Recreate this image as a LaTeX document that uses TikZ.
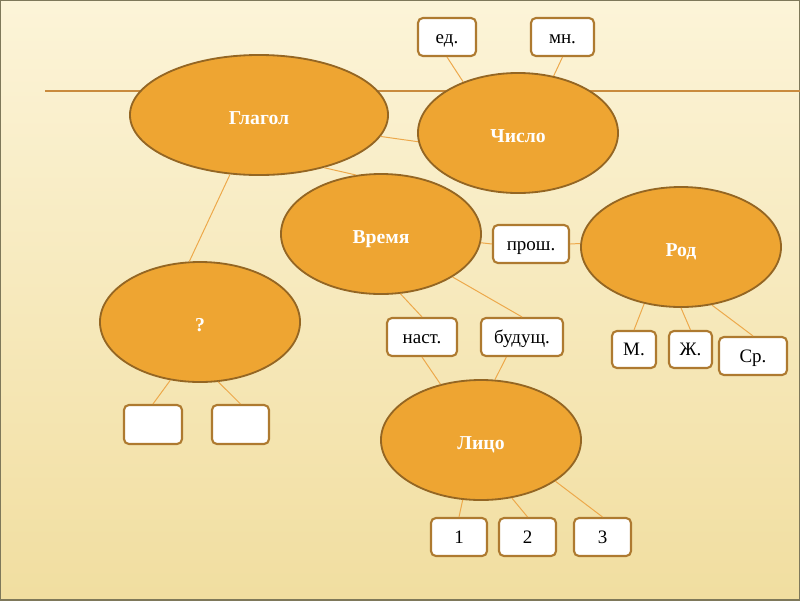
\documentclass[tikz,border=0pt]{standalone}
\usepackage{fontspec}
\setmainfont{Liberation Serif}
\usetikzlibrary{shapes.geometric}
\definecolor{bgtop}{HTML}{FCF4D8}
\definecolor{bgbot}{HTML}{F1DEA0}
\definecolor{framec}{HTML}{7E785A}
\definecolor{ellfill}{HTML}{EEA532}
\definecolor{elldraw}{HTML}{946623}
\definecolor{boxdraw}{HTML}{AE7A30}
\definecolor{linkc}{HTML}{EDA84A}
\definecolor{hlinec}{HTML}{C98B3E}
\begin{document}
\begin{tikzpicture}[x=0.025cm,y=-0.025cm,
  oval/.style={ellipse,draw=elldraw,fill=ellfill,line width=1.3pt,inner sep=0pt,
    minimum width=5cm,minimum height=3cm,text=white,text height=14pt,text depth=0pt,
    font=\fontsize{14}{16}\selectfont\bfseries},
  lbox/.style={rectangle,draw=boxdraw,fill=white,line width=1.5pt,rounded corners=3.5pt,
    inner sep=0pt,minimum height=0.95cm,text height=10pt,text depth=1pt,
    font=\fontsize{13.5}{15}\selectfont},
  link/.style={draw=linkc,line width=0.7pt}]
\useasboundingbox (0,0) rectangle (800,600);
\shade[top color=bgtop,bottom color=bgbot] (0,0) rectangle (800,600);
\draw[framec,line width=1.2pt] (0,0) rectangle (800,600);
% horizontal rule
\coordinate (hl) at (45,91);
\coordinate (hr) at (800,91);
\draw[hlinec,line width=0.8pt] (hl) -- (hr);
% ellipses
\node[oval,minimum width=6.45cm] (glagol) at (259,115) {Глагол};
\node[oval] (chislo) at (518,133) {Число};
\node[oval] (vremya) at (381,234) {Время};
\node[oval] (rod) at (681,247) {Род};
\node[oval] (q) at (200,322) {?};
\node[oval] (lico) at (481,440) {Лицо};
% boxes
\node[lbox,minimum width=1.45cm] (ed) at (447,37) {ед.};
\node[lbox,minimum width=1.575cm] (mn) at (562.5,37) {мн.};
\node[lbox,minimum width=1.9cm] (prosh) at (531,244) {прош.};
\node[lbox,minimum width=1.75cm] (nast) at (422,337) {наст.};
\node[lbox,minimum width=2.05cm] (bud) at (522,337) {будущ.};
\node[lbox,minimum width=1.1cm,minimum height=0.925cm] (m) at (634,349.5) {М.};
\node[lbox,minimum width=1.075cm,minimum height=0.925cm] (zh) at (690.5,349.5) {Ж.};
\node[lbox,minimum width=1.7cm] (sr) at (753,356) {Ср.};
\node[lbox,minimum width=1.45cm,minimum height=0.975cm] (e1) at (153,424.5) {};
\node[lbox,minimum width=1.425cm,minimum height=0.975cm] (e2) at (240.5,424.5) {};
\node[lbox,minimum width=1.4cm] (p1) at (459,537) {1};
\node[lbox,minimum width=1.425cm] (p2) at (527.5,537) {2};
\node[lbox,minimum width=1.425cm] (p3) at (602.5,537) {3};
% connectors
\draw[link] (glagol.-10) -- (chislo.185);
\draw[link] (glagol.-39) -- (vremya.113);
\draw[link] (glagol.244) -- (q.100);
\draw[link] (ed.south) -- (chislo.137);
\draw[link] (mn.south) -- (chislo.58);
\draw[link] (vremya.-5) -- (prosh.west);
\draw[link] (prosh.east) -- (rod.178);
\draw[link] (vremya.-72) -- (nast.north);
\draw[link] (vremya.-31) -- (bud.north);
\draw[link] (rod.237) -- (m.north);
\draw[link] (rod.-90) -- (zh.north);
\draw[link] (rod.-62) -- (sr.north);
\draw[link] (nast.south) -- (lico.126);
\draw[link] (bud.232) -- (lico.77);
\draw[link] (lico.253) -- (p1.north);
\draw[link] (lico.-62) -- (p2.north);
\draw[link] (lico.-29) -- (p3.north);
\draw[link] (q.243) -- (e1.north);
\draw[link] (q.-73) -- (e2.north);
\end{tikzpicture}
\end{document}
